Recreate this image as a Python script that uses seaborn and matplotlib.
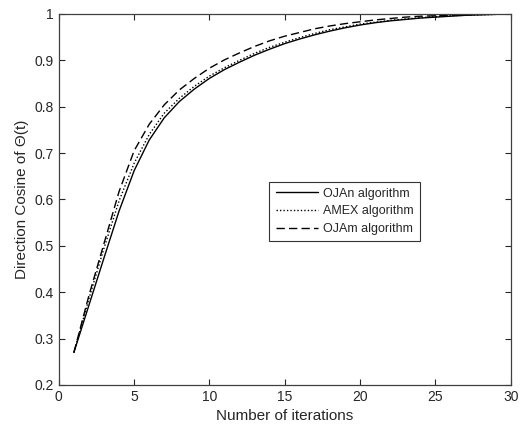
import numpy as np
import pandas as pd
import matplotlib
matplotlib.use("Agg")
import matplotlib.pyplot as plt
import seaborn as sns

# -------------------------------
# DATA
# -------------------------------

iterations = list(range(1, 31))

ojan = [0.270, 0.372, 0.474, 0.575, 0.662, 0.728, 0.776, 0.811, 0.838, 0.861,
        0.880, 0.896, 0.911, 0.924, 0.936, 0.946, 0.955, 0.963, 0.970, 0.976,
        0.981, 0.985, 0.988, 0.991, 0.993, 0.995, 0.997, 0.998, 0.999, 1.0]

amex = [0.270, 0.386, 0.495, 0.597, 0.678, 0.740, 0.786, 0.818, 0.844, 0.866,
        0.884, 0.900, 0.915, 0.928, 0.939, 0.949, 0.958, 0.966, 0.972, 0.978,
        0.982, 0.986, 0.989, 0.992, 0.994, 0.996, 0.997, 0.998, 0.999, 1.0]

ojam = [0.270, 0.393, 0.505, 0.617, 0.705, 0.762, 0.804, 0.836, 0.861, 0.883,
        0.901, 0.916, 0.930, 0.942, 0.952, 0.960, 0.968, 0.974, 0.979, 0.983,
        0.987, 0.990, 0.993, 0.995, 0.996, 0.997, 0.998, 0.999, 0.9995, 1.0]

labels = ["OJAn algorithm", "AMEX algorithm", "OJAm algorithm"]

df = pd.DataFrame({
    "iter": iterations * 3,
    "value": ojan + amex + ojam,
    "algo": [labels[0]] * 30 + [labels[1]] * 30 + [labels[2]] * 30,
})

# -------------------------------
# PLOT
# -------------------------------

sns.set_style("white")
plt.rcParams['font.family'] = ['Liberation Sans', 'DejaVu Sans']

fig = plt.figure(figsize=(5.25, 4.34), dpi=100)
ax = fig.add_axes([0.112, 0.113, 0.861, 0.855])

sns.lineplot(data=df, x="iter", y="value", style="algo", color="k",
             dashes={labels[0]: "", labels[1]: (1, 1.5), labels[2]: (6, 3)},
             linewidth=1.0, ax=ax)

ax.set_xlim(0, 30)
ax.set_ylim(0.2, 1.0)
ax.set_xticks(range(0, 31, 5))
ax.set_yticks(np.round(np.arange(0.2, 1.01, 0.1), 1))
ax.set_yticklabels(["0.2", "0.3", "0.4", "0.5", "0.6", "0.7", "0.8", "0.9", "1"])

ax.tick_params(direction="in", length=4, width=0.8, top=True, right=True,
               bottom=True, left=True, labelsize=10, colors="#262626")
for s in ax.spines.values():
    s.set_color("#404040")
    s.set_linewidth(0.9)

ax.set_xlabel("Number of iterations", fontsize=11, color="#262626")
ax.set_ylabel("Direction Cosine of \u0398(t)", fontsize=11, color="#262626")

leg = ax.legend(loc="upper left", bbox_to_anchor=(0.466, 0.548), fontsize=9,
                frameon=True, fancybox=False, handlelength=3.4,
                handletextpad=0.4, borderpad=0.5, labelspacing=0.45,
                borderaxespad=0)
leg.get_frame().set_edgecolor("k")
leg.get_frame().set_linewidth(0.8)

fig.savefig("out.png", dpi=100)
